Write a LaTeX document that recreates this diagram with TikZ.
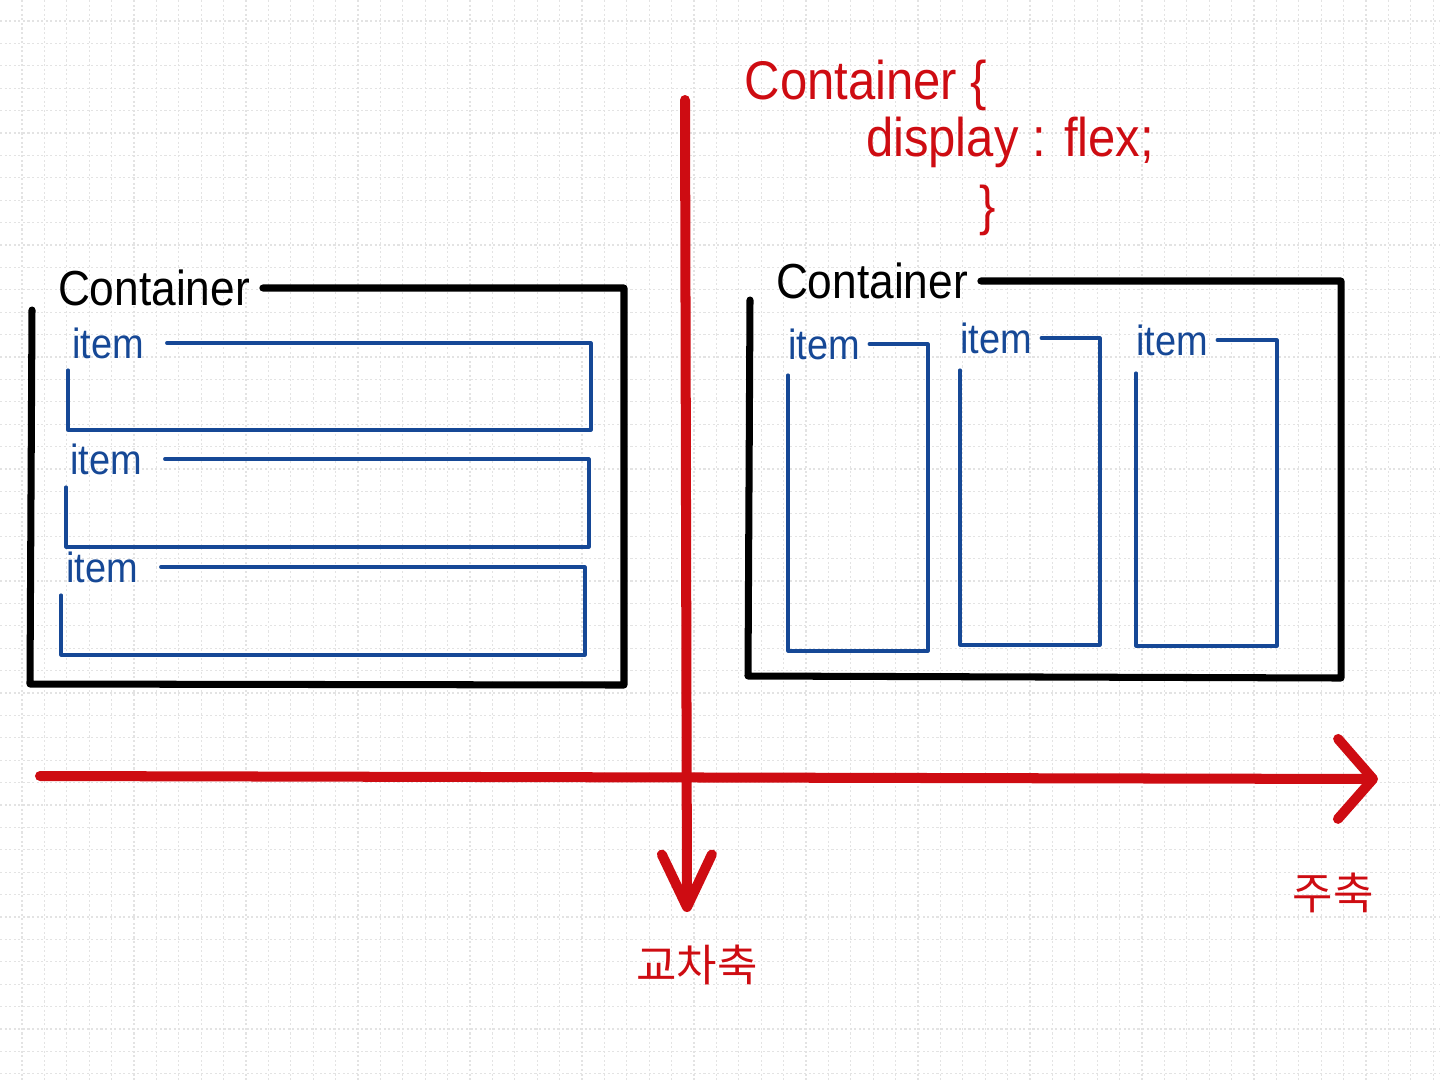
\documentclass[tikz,border=0pt]{standalone}
\usepackage{fontspec}
\setmainfont{Liberation Sans}
\newfontfamily\hand[FakeStretch=0.9]{Liberation Sans}
\newfontfamily\kor{Noto Sans CJK KR}
\usetikzlibrary{arrows.meta}
\definecolor{penred}{RGB}{206,12,18}
\definecolor{penblue}{RGB}{22,72,150}
\tikzset{
  gridline/.style={gray!22, line width=0.6pt, dash pattern=on 1.2pt off 1.4pt},
  boxline/.style={black, line width=4pt, line cap=round, line join=round},
  itemline/.style={penblue, line width=1.8pt, line cap=round, line join=round},
  axisline/.style={penred, line width=5.7pt, line cap=round, line join=round},
  boxlabel/.style={font=\hand\fontsize{28}{30}\selectfont},
  itemlabel/.style={penblue, font=\hand\fontsize{24}{26}\selectfont},
  codelabel/.style={penred, font=\hand\fontsize{31}{34}\selectfont},
  axislabel/.style={penred, font=\kor\fontsize{25}{28}\selectfont}
}
\begin{document}
\begin{tikzpicture}
[x=0.02cm, y=-0.02cm, inner sep=2.5mm]
\useasboundingbox (0,0) rectangle (1440,1080);
\foreach \gx in {0,...,63} \draw[gridline] ({22+22.4*\gx},0) -- ({22+22.4*\gx},1080);
\foreach \gy in {0,...,47} \draw[gridline] (0,{21+22.4*\gy}) -- (1440,{21+22.4*\gy});
\path (154,288) node (lc) [boxlabel] {Container}
( 108,343) node (li1) [itemlabel, inner xsep=4.5mm] {item}
( 106,459) node (li2) [itemlabel, inner xsep=4.5mm] {item}
( 102,567) node (li3) [itemlabel, inner xsep=4.5mm] {item}
( 872,281) node (rc) [boxlabel] {Container}
( 824,344) node (ri1) [itemlabel, inner xsep=1.8mm] {item}
( 996,338) node (ri2) [itemlabel, inner xsep=1.8mm] {item}
(1172,340) node (ri3) [itemlabel, inner xsep=1.8mm] {item}
( 866, 85) node (code1) [codelabel] {Container \{}
(1010,142) node (code2) [codelabel] {display : flex;}
( 988,210) node (code3) [codelabel] {\}}
( 697,965) node (cross) [axislabel] {교차축}
(1333,893) node (main) [axislabel] {주축};
\coordinate (htail) at (40,776);
\coordinate (hhead) at (1378,779);
\coordinate (vtail) at (685,100);
\coordinate (vhead) at (687,912);
\draw [boxline] (lc.east) -| (624,685) -- (30,684) -- (32,310);
\draw [itemline] (li1.east) -| (591,430) -- (68,430) -- (68,370);
\draw [itemline] (li2.east) -| (589,547) -- (66,547) -- (66,487);
\draw [itemline] (li3.east) -| (585,655) -- (61,655) -- (61,595);
\draw [boxline] (rc.east) -| (1341,678) -- (748,676) -- (750,300);
\draw [itemline] (ri1.east) -| (928,651) -- (788,651) -- (788,375);
\draw [itemline] (ri2.east) -| (1100,645) -- (960,645) -- (960,370);
\draw [itemline] (ri3.east) -| (1277,646) -- (1136,646) -- (1136,373);
\draw [axisline, -{Straight Barb[length=1.05cm, width=1cm, round]}] (vtail) -- (vhead);
\draw [axisline, -{Straight Barb[length=0.7cm, width=1.6cm, round]}] (htail) -- (hhead);
\end{tikzpicture}
\end{document}
